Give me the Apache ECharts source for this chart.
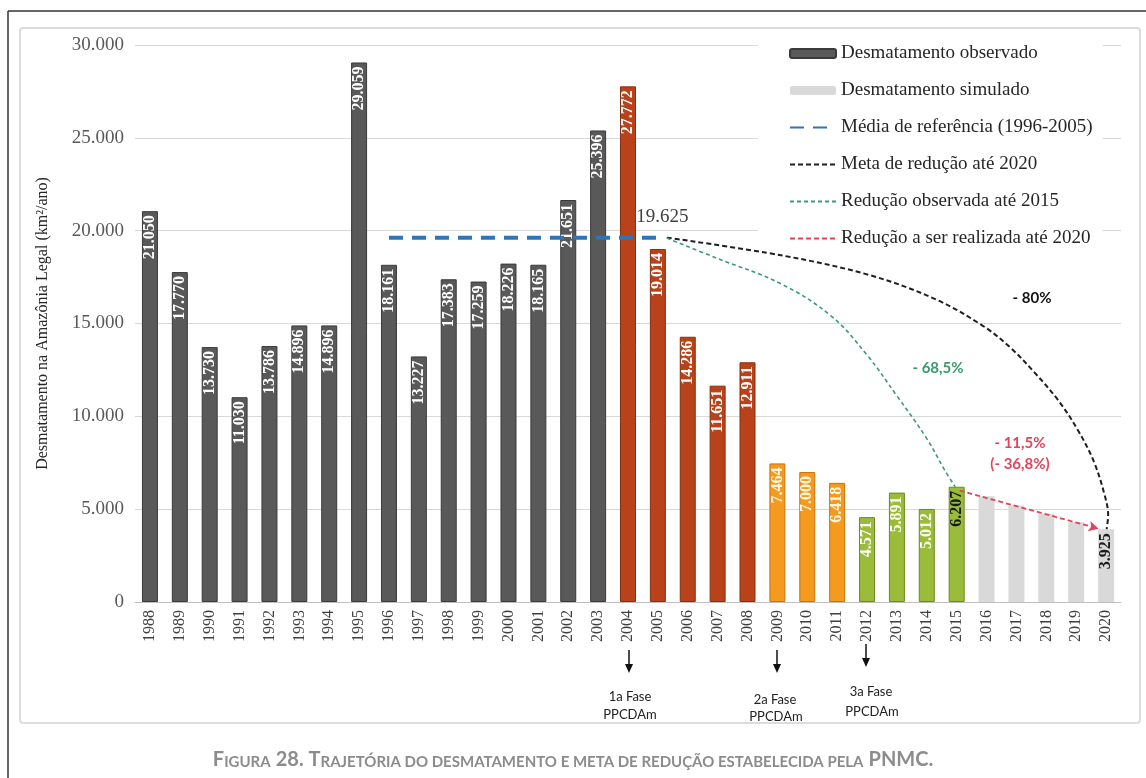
<!DOCTYPE html>
<html>
<head>
<meta charset="utf-8">
<script src="https://cdn.jsdelivr.net/npm/echarts@6/dist/echarts.min.js"></script>
<style>html,body{margin:0;background:#fff}#chart{width:1146px;height:778px}</style>
</head>
<body>
<div id="chart"></div>
<script>
const years=["1988","1989","1990","1991","1992","1993","1994","1995","1996","1997","1998","1999","2000","2001","2002","2003","2004","2005","2006","2007","2008","2009","2010","2011","2012","2013","2014","2015","2016","2017","2018","2019","2020"];
const observed=[21050,17770,13730,11030,13786,14896,14896,29059,18161,13227,17383,17259,18226,18165,21651,25396,27772,19014,14286,11651,12911,7464,7000,6418,4571,5891,5012,6207,null,null,null,null,null];
const simulated=[null,null,null,null,null,null,null,null,null,null,null,null,null,null,null,null,null,null,null,null,null,null,null,null,null,null,null,null,5700,5200,4750,4300,3925];
// line points: [position along the years (index), km²]
const mediaRef=[[8,19625],[17,19625]];
const metaReducao=[[17.3,19625],[21.2,18650],[24.1,17600],[26.3,16300],[27.9,14850],[28.8,13700],[29.6,12370],[30.4,10860],[31.06,9250],[31.6,7530],[31.97,5650],[32.07,4680],[32.02,3925]];
const reducObservada=[[17.3,19600],[19,18500],[21.1,17150],[22.8,15400],[24,13300],[25,11100],[26,8800],[26.6,7100],[26.95,6207]];
const reducRestante=[[27.1,6000],[31.75,3950]];
const names=["Desmatamento observado","Desmatamento simulado","Média de referência (1996-2005)","Meta de redução até 2020","Redução observada até 2015","Redução a ser realizada até 2020"];

const SERIF="Liberation Serif",SANS="Lato";
const fmt=v=>String(v).replace(/\B(?=(\d{3})+(?!\d))/g,".");

function phase(y){
  if(y>=2012)return {c:"#9bbb3b",b:"#6a8a22",t:"#fbfbee"};
  if(y>=2009)return {c:"#f49a1f",b:"#c8730c",t:"#fff4dc"};
  if(y>=2004)return {c:"#b9421b",b:"#86300f",t:"#fff"};
  return {c:"#595959",b:"#3a3a3a",t:"#fff"};
}

const chart=echarts.init(document.getElementById("chart"),null,{renderer:"canvas"});

const obsData=observed.map((v,i)=>{
  if(v==null)return null;
  const p=phase(+years[i]);
  return {value:v,itemStyle:{color:p.c,borderColor:p.b},label:{color:years[i]==="2015"?"#1a1a1a":p.t}};
});
const simData=simulated.map((v,i)=>v==null?null:{value:v,label:{show:i===years.length-1}});

const barLabel={
  rotate:90,position:"insideTop",align:"right",verticalAlign:"middle",distance:4,
  fontFamily:SERIF,fontWeight:"bold",fontSize:16,formatter:p=>fmt(p.value)
};

const sansText=(text,x,y,color,size,bold)=>({
  type:"text",x,y,style:{text,fill:color,font:`${bold?"bold ":""}${size}px ${SANS}`,align:"center",verticalAlign:"middle",textAlign:"center",textVerticalAlign:"middle"}
});
const arrow=(x,y)=>[
  {type:"line",shape:{x1:x,y1:y,x2:x,y2:y+18},style:{stroke:"#111",lineWidth:1.5}},
  {type:"polygon",shape:{points:[[x-4,y+14],[x+4,y+14],[x,y+23]]},style:{fill:"#111"}}
];

chart.setOption({
  animation:false,
  backgroundColor:"#fff",
  title:{
    text:"{b|F}{s|IGURA} {b|28. T}{s|RAJETÓRIA DO DESMATAMENTO E META DE REDUÇÃO ESTABELECIDA PELA} {b|PNMC.}",
    left:"center",top:745,
    textStyle:{rich:{
      b:{fontFamily:SANS,fontSize:20,color:"#8c8c8c",lineHeight:20,verticalAlign:"bottom"},
      s:{fontFamily:SANS,fontSize:15,color:"#8c8c8c",lineHeight:15,verticalAlign:"bottom"}
    }}
  },
  legend:{
    orient:"vertical",left:758,top:36,padding:[8,10,4,31],
    backgroundColor:"#fff",itemWidth:46,itemHeight:9,itemGap:18,
    selectedMode:false,
    data:names.map((n,i)=>i<2?n:{name:n,itemStyle:{opacity:0}}),
    textStyle:{fontFamily:SERIF,fontSize:19,color:"#262626"}
  },
  grid:{left:135,right:25,top:45,bottom:176},
  xAxis:[{
    type:"category",data:years,boundaryGap:true,
    axisLine:{lineStyle:{color:"#bfbfbf"}},axisTick:{show:false},
    axisLabel:{rotate:90,interval:0,margin:8,fontFamily:SERIF,fontSize:16,color:"#404040"}
  },{
    type:"value",min:-0.5,max:32.5,show:false
  }],
  yAxis:{
    type:"value",min:0,max:30000,interval:5000,
    name:"Desmatamento na Amazônia Legal (km²/ano)",nameLocation:"middle",nameGap:84,
    nameTextStyle:{fontFamily:SERIF,fontSize:16,color:"#262626"},
    axisLine:{show:false},axisTick:{show:false},
    axisLabel:{formatter:fmt,margin:11,fontFamily:SERIF,fontSize:19,color:"#595959"},
    splitLine:{lineStyle:{color:"#d9d9d9"}}
  },
  series:[{
    name:names[0],type:"bar",data:obsData,barWidth:16,barGap:"-100%",
    itemStyle:{color:"#595959",borderColor:"#3a3a3a",borderWidth:1},
    label:{show:true,...barLabel},z:2
  },{
    name:names[1],type:"bar",data:simData,barWidth:16,barGap:"-100%",
    itemStyle:{color:"#d9d9d9"},
    label:{...barLabel,color:"#1a1a1a"},z:2
  },{
    name:names[2],type:"line",xAxisIndex:1,data:mediaRef,symbol:"none",
    lineStyle:{color:"#2e75b6",width:4,type:[14,9]},z:4,
    markPoint:{symbol:"circle",symbolSize:0,silent:true,data:[{coord:[17.15,19625],
      label:{show:true,position:"top",distance:11,formatter:"19.625",fontFamily:SERIF,fontSize:19,color:"#404040"}}]}
  },{
    name:names[3],type:"line",xAxisIndex:1,data:metaReducao,symbol:"none",smooth:0.35,
    lineStyle:{color:"#1f1f1f",width:2,type:[5,3]},z:5
  },{
    name:names[4],type:"line",xAxisIndex:1,data:reducObservada,symbol:"none",smooth:0.4,
    lineStyle:{color:"#3c9b72",width:1.6,type:[4,3]},z:5
  },{
    name:names[5],type:"line",xAxisIndex:1,symbol:"none",
    data:[reducRestante[0],{value:reducRestante[1],symbol:"arrow",symbolSize:[8,10],symbolRotate:-105,itemStyle:{color:"#e0455c"}}],
    lineStyle:{color:"#e0455c",width:1.8,type:[5,3]},z:5
  }],
  graphic:[
    {type:"line",shape:{x1:8,y1:11,x2:1146,y2:11},style:{stroke:"#333",lineWidth:1.5}},
    {type:"line",shape:{x1:8,y1:11,x2:8,y2:778},style:{stroke:"#333",lineWidth:1.5}},
    {type:"rect",shape:{x:20,y:28,width:1120,height:695,r:3},style:{fill:"none",stroke:"#dcdcdc",lineWidth:2},z:-1},
    sansText("- 80%",1032,298,"#111",15,true),
    sansText("- 68,5%",938,368,"#3a9a6e",15,true),
    sansText("- 11,5%",1020,443,"#e0455c",15,true),
    sansText("(- 36,8%)",1020,464,"#e0455c",15,true),
    ...arrow(629,650),...arrow(777,650),...arrow(866,644),
    sansText("1a Fase",630,697,"#222",13),sansText("PPCDAm",630,715,"#222",13),
    sansText("2a Fase",775,700,"#222",13),sansText("PPCDAm",776,717,"#222",13),
    sansText("3a Fase",871,692,"#222",13),sansText("PPCDAm",872,712,"#222",13)
  ]
});
</script>
</body>
</html>
